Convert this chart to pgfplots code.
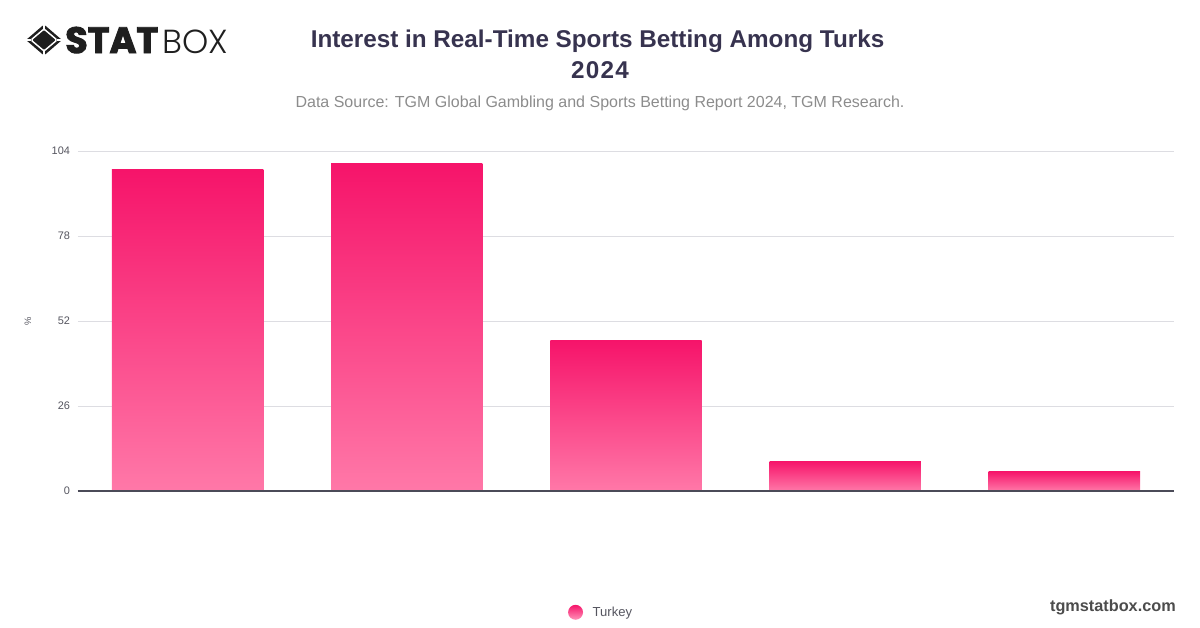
\documentclass[border=0pt]{standalone}
\usepackage{pgfplots}
\pgfplotsset{compat=1.18}
\usepackage{fontspec}
\setmainfont{Liberation Sans}
\newfontfamily\logobold[FakeBold=2.5]{Poppins}
\newfontfamily\logolight{Poppins Light}
\definecolor{titlec}{HTML}{37334F}
\definecolor{subc}{HTML}{8C8C8C}
\definecolor{tickc}{HTML}{55555F}
\definecolor{gridc}{HTML}{DDDDE2}
\definecolor{axisc}{HTML}{4B4B58}
\definecolor{bartop}{HTML}{F6146A}
\definecolor{barbot}{HTML}{FF78A8}
\begin{document}
\begin{tikzpicture}
\begin{scope}[x=0.75pt,y=-0.75pt]
\useasboundingbox (0,0) rectangle (1200,628);
\coordinate (A) at (78,491);
% logo
\fill[black!88,rounded corners=1.2pt] (44,24.5) -- (62,40) -- (44,55.5) -- (26,40) -- cycle;
\draw[white,line width=1.1pt,rounded corners=1pt] (44,29) -- (57,40) -- (44,51) -- (31,40) -- cycle;
\draw[white,line width=1.1pt] (25,40) -- (31,40) (63,40) -- (57,40) (44,24) -- (44,29) (44,56) -- (44,51);
\node[anchor=base west,inner sep=0pt,text=black!88] at (65,53) {\logobold\fontsize{27.5}{30}\selectfont\bfseries STAT};
\node[anchor=base west,inner sep=0pt,text=black!88] at (162,53) {\logolight\fontsize{25}{30}\selectfont BOX};
% titles
\node[anchor=base,inner sep=0pt,text=titlec] at (597.5,47) {\fontsize{18.2}{22}\selectfont\bfseries Interest in Real-Time Sports Betting Among Turks};
\node[anchor=base,inner sep=0pt,text=titlec] at (600,78) {\fontsize{18.2}{22}\selectfont\bfseries\addfontfeatures{LetterSpace=5}2024};
\node[anchor=base,inner sep=0pt,text=subc] at (600,107) {\fontsize{12}{14}\selectfont Data Source: TGM Global Gambling and Sports Betting Report 2024, TGM Research.};
\node[anchor=base east,inner sep=0pt,text=black!70] at (1176,611) {\fontsize{12.2}{14}\selectfont\bfseries tgmstatbox.com};
\end{scope}
\begin{axis}[
  at={(A)},anchor=south west,
  scale only axis,width=822pt,height=255pt,
  xmin=-0.5,xmax=4.5,ymin=0,ymax=104,
  ytick={0,26,52,78,104},
  xtick=\empty,
  ymajorgrids,
  grid style={gridc,line width=0.75pt},
  axis y line=left,
  axis x line=bottom,
  x axis line style={draw=axisc,line width=1pt,-},
  y axis line style={draw=none},
  major tick length=0pt,
  y tick label style={text=tickc,font=\fontsize{8.2}{10}\selectfont,xshift=-2.5pt},
  /pgf/number format/assume math mode=true,
  ylabel={\%},
  every axis y label/.style={at={(rel axis cs:0,0.5)},anchor=center,rotate=90,yshift=37.5pt,text=tickc,font=\fontsize{7}{9}\selectfont},
  ybar,
  bar width=113.5pt,
  bar shift=0pt,
  clip=false,
  legend style={at={(axis cs:1.888,-37.1)},anchor=center,draw=none,fill=none,
    font=\fontsize{9.8}{12}\selectfont,text=tickc,
    legend cell align=left,inner sep=0pt},
  legend image code/.code={\shade[top color=bartop,bottom color=barbot!80!white,draw=none] (0pt,0) circle (5.6pt); \path (10.85pt,0);},
]
\addplot[draw=none,top color=bartop,bottom color=barbot] coordinates {(0,98.2)};
\addlegendentry{Turkey}
\addplot[forget plot,draw=none,top color=bartop,bottom color=barbot] coordinates {(1,100.3)};
\addplot[forget plot,draw=none,top color=bartop,bottom color=barbot] coordinates {(2,46.1)};
\addplot[forget plot,draw=none,top color=bartop,bottom color=barbot] coordinates {(3,9.1)};
\addplot[forget plot,draw=none,top color=bartop,bottom color=barbot] coordinates {(4,6.0)};
\addplot[forget plot,sharp plot,no marks,draw=axisc,line width=1pt] coordinates {(-0.5,0) (4.5,0)};
\end{axis}
\end{tikzpicture}
\end{document}
